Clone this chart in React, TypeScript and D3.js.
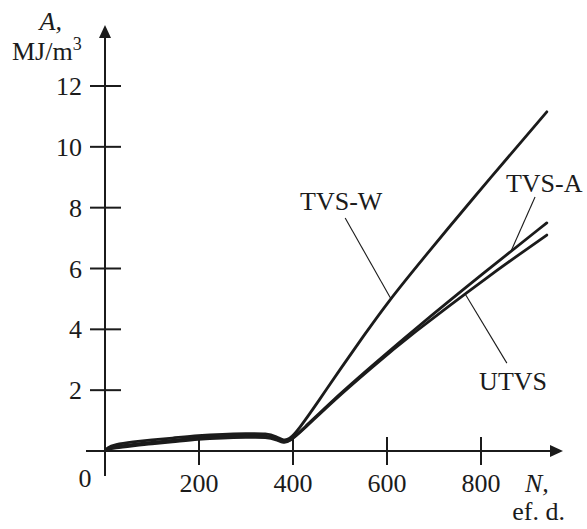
import React from 'react';
import * as d3 from 'd3';

// N (ef. d.) and A (MJ/m3)
const nW = [0, 4, 20, 60, 100, 140, 200, 250, 300, 345, 365, 380, 392, 410, 457, 500, 550, 602, 670, 777, 940];
const aW = [0, 0.1, 0.21, 0.3, 0.37, 0.42, 0.51, 0.55, 0.57, 0.58, 0.47, 0.34, 0.38, 0.66, 1.7, 2.68, 3.78, 4.9, 6.2, 8.2, 11.15];

const nA = [0, 4, 20, 60, 100, 140, 200, 250, 300, 345, 365, 380, 392, 420, 485, 568, 649, 813, 940];
const aA = [0, 0.06, 0.15, 0.22, 0.29, 0.34, 0.44, 0.48, 0.5, 0.51, 0.41, 0.29, 0.32, 0.7, 1.68, 2.8, 3.88, 5.95, 7.5];

const nU = nA;
const aU = [0, 0.04, 0.1, 0.17, 0.24, 0.29, 0.39, 0.43, 0.45, 0.46, 0.37, 0.26, 0.3, 0.67, 1.64, 2.75, 3.8, 5.72, 7.1];

const xTicks = [200, 400, 600, 800];
const yTicks = [2, 4, 6, 8, 10, 12];

const W = 587;
const H = 529;
const ink = '#1b1b1b';
const font = '"Liberation Serif", "Times New Roman", serif';

const App = () => {
  const x = d3.scaleLinear().domain([0, 800]).range([105, 481]);
  const y = d3.scaleLinear().domain([0, 12]).range([451, 86]);

  const line = d3.line<number>()
    .curve(d3.curveBasis);

  const path = (ns: number[], as: number[]) =>
    line.x((_, i) => x(ns[i])).y((_, i) => y(as[i]))(ns);

  // curve value lookups for leader lines
  const fW = d3.scaleLinear().domain(nW).range(aW);
  const fA = d3.scaleLinear().domain(nA).range(aA);
  const fU = d3.scaleLinear().domain(nU).range(aU);

  const series = [
    { n: nW, a: aW },
    { n: nA, a: aA },
    { n: nU, a: aU },
  ];

  const leaders = [
    { x1: x(511), y1: y(7.66), x2: x(608), y2: y(fW(608)) },
    { x1: x(915), y1: y(8.35), x2: x(864), y2: y(fA(864)) },
    { x1: x(766), y1: y(fU(766)), x2: x(855), y2: y(2.89) },
  ];

  const labels = [
    { t: 'TVS-W', x: x(415), y: y(7.92) },
    { t: 'TVS-A', x: x(853), y: y(8.53) },
    { t: 'UTVS', x: x(796), y: y(2.0) },
  ];

  const x0 = x(0);
  const y0 = y(0);

  return (
    <svg width={W} height={H} style={{ position: 'absolute', left: 0, top: 0, background: '#fff' }}>
      <g fontFamily={font} fontSize={26} fill={ink}>
        {/* axes */}
        <line x1={x0} y1={y0 + 25} x2={x0} y2={37} stroke={ink} strokeWidth={2} />
        <path d={`M${x0},25 L${x0 - 6},38 L${x0 + 6},38 Z`} fill={ink} />
        <line x1={x0 - 19} y1={y0} x2={551} y2={y0} stroke={ink} strokeWidth={2} />
        <path d={`M563,${y0} L550,${y0 - 6} L550,${y0 + 6} Z`} fill={ink} />

        {yTicks.map(t => (
          <g key={t}>
            <line x1={x0 - 15} x2={x0 + 16} y1={y(t)} y2={y(t)} stroke={ink} strokeWidth={2} />
            <text x={x0 - 23} y={y(t)} dy="0.35em" textAnchor="end">{t}</text>
          </g>
        ))}
        {xTicks.map(t => (
          <g key={t}>
            <line x1={x(t)} x2={x(t)} y1={y0 - 14} y2={y0 + 14} stroke={ink} strokeWidth={2} />
            <text x={x(t)} y={492} textAnchor="middle">{t}</text>
          </g>
        ))}
        <text x={85} y={487} textAnchor="middle">0</text>

        {/* axis titles */}
        <text x={62} y={30} textAnchor="end" fontStyle="italic">A,</text>
        <text x={12} y={60}>MJ/m<tspan dy={-10} fontSize={18}>3</tspan></text>
        <text x={525} y={492} fontStyle="italic">N,</text>
        <text x={565} y={520} textAnchor="end">ef. d.</text>

        {/* curves */}
        {series.map((s, i) => (
          <path key={i} d={path(s.n, s.a) || ''} fill="none" stroke={ink}
            strokeWidth={2.8} strokeLinecap="round" strokeLinejoin="round" />
        ))}

        {/* leaders and labels */}
        {leaders.map((l, i) => (
          <line key={i} x1={l.x1} y1={l.y1} x2={l.x2} y2={l.y2} stroke={ink} strokeWidth={1.1} />
        ))}
        {labels.map(l => (
          <text key={l.t} x={l.x} y={l.y}>{l.t}</text>
        ))}
      </g>
    </svg>
  );
};

export default App;
